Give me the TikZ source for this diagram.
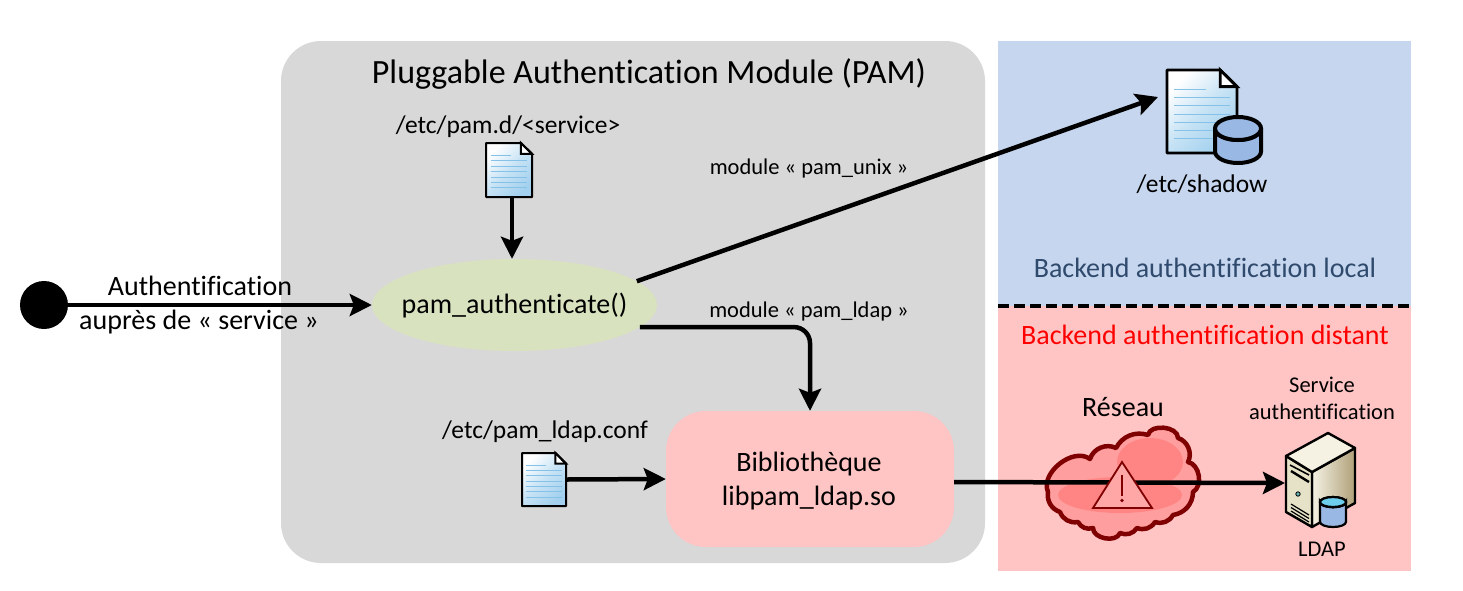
\documentclass[tikz,border=0pt]{standalone}
\usepackage{fontspec}
\setmainfont{Carlito}[Ligatures=CommonOff]
\usetikzlibrary{arrows.meta, shapes.geometric}
\definecolor{graybg}{HTML}{D8D8D8}
\definecolor{bluebg}{HTML}{C5D6EE}
\definecolor{pinkbg}{HTML}{FFC4C4}
\definecolor{greenell}{HTML}{D8E2BE}
\definecolor{localtxt}{HTML}{2F4A6D}
\definecolor{clouddark}{HTML}{7E0000}
\definecolor{cloudfill}{HTML}{FF9E9E}
\definecolor{cloudcore}{HTML}{FF8585}
\definecolor{docblue}{HTML}{A2D0EE}
\definecolor{docline}{HTML}{86C2E8}
\definecolor{cylblue}{HTML}{9AB8E4}
\definecolor{servtop}{HTML}{F5F2E4}
\definecolor{servfront}{HTML}{E6E2C8}
\definecolor{servside}{HTML}{AFA079}
\tikzset{
    flow/.style={line width=4.5pt, -{Stealth[length=22pt, width=22pt, inset=4pt]}},
    label28/.style={font=\fontsize{28}{34}\selectfont, inner sep=0pt, align=center},
    label25/.style={font=\fontsize{25.5}{30}\selectfont, inner sep=0pt, align=center},
    label22/.style={font=\fontsize{22.5}{27}\selectfont, inner sep=0pt, align=center},
    iconbox/.style={inner sep=0pt, outer sep=0pt},
    pics/docicon/.style={code={
        \path[top color=white, bottom color=docblue, middle color=docblue!60!white, shading angle=45]
            (0,0) -- (0.76,0) -- (1,0.2) -- (1,1) -- (0,1) -- cycle;
        \foreach \ly in {0.33,0.43,0.53,0.63,0.73,0.83}
            \draw[line width=0.8pt, color=docline] (0.1,\ly) -- (0.9,\ly);
        \draw[line width=0.8pt, color=docline] (0.1,0.23) -- (0.55,0.23);
        \draw[fill=white] (0.76,0) -- (1,0.2) -- (0.76,0.2) -- cycle;
        \draw[line join=round] (0,0) -- (0.76,0) -- (1,0.2) -- (1,1) -- (0,1) -- cycle;
    }},
    pics/cylicon/.style={code={
        \path[pic actions] (0,#1) -- (0,1-#1) arc[start angle=180, end angle=0, x radius=0.5, y radius=#1] -- (1,#1) arc[start angle=0, end angle=180, x radius=0.5, y radius=#1] -- cycle;
        \path[pic actions] (0.5,#1) ellipse [x radius=0.5, y radius=#1];
    }},
}
\begin{document}
\begin{tikzpicture}[x=1pt, y=-1pt]
    \useasboundingbox (0,0) rectangle (1463,590);

    % Backgrounds
    \fill[graybg, rounded corners=40pt] (281,41) rectangle (985,563);
    \fill[bluebg] (998,41) rectangle (1411,306);
    \fill[pinkbg] (998,306) rectangle (1411,571);
    \draw[line width=3.5pt, dash pattern=on 11pt off 5pt] (998,306) -- (1411,306);

    % Zone titles
    \node [font=\fontsize{34}{40}\selectfont, inner sep=0pt] (pamtitle) at (649,74) {Pluggable Authentication Module (PAM)};
    \node [label28, color=localtxt] (localtitle) at (1205,267.5) {Backend authentification local};
    \node [label28, color=red] (remotetitle) at (1205,335) {Backend authentification distant};

    % Main nodes
    \node [circle, fill=black, minimum size=48pt, inner sep=0pt] (start) at (44,305) {};
    \node [ellipse, fill=greenell, minimum width=285pt, minimum height=92pt, inner sep=0pt] (auth) at (514.5,305) {};
    \node [label28] (authtxt) at (514.5,306) {pam\_authenticate()};
    \node [rectangle, rounded corners=40pt, fill=pinkbg, minimum width=288pt, minimum height=136pt, inner sep=0pt] (lib) at (810,479) {};
    \node [label28] (libtxt) at (809,481) {Bibliothèque\\libpam\_ldap.so};

    % Icons
    \node [iconbox, minimum width=46pt, minimum height=54pt] (pamdoc) at (509,170) {};
    \pic [xscale=46, yscale=54, line width=2pt] at (pamdoc.north west) {docicon};
    \node [iconbox, minimum width=44pt, minimum height=53pt] (ldapdoc) at (544,479.5) {};
    \pic [xscale=44, yscale=53, line width=2pt] at (ldapdoc.north west) {docicon};
    \node [iconbox, minimum width=70pt, minimum height=83pt] (shadowdoc) at (1202,111.5) {};
    \pic [xscale=70, yscale=83, line width=2.8pt] at (shadowdoc.north west) {docicon};
    \pic [xscale=46, yscale=46, draw=black, line width=4pt, fill=cylblue] at (1215,117) {cylicon=0.25};
    \coordinate (shadowtip) at (1158,97);

    % Server
    \node [iconbox, minimum width=70pt, minimum height=96pt] (server) at (1320,483) {};
    \begin{scope}[shift={(server.center)}, line width=2.4pt, line join=round]
        \draw[left color=servtop, right color=servside] (-8,-11) -- (35,-35) -- (35,20) -- (-8,44) -- cycle;
        \draw[fill=servfront] (-34,-27) -- (-8,-11) -- (-8,44) -- (-34,29) -- cycle;
        \draw[fill=servtop] (-34,-27) -- (8,-50) -- (35,-35) -- (-8,-11) -- cycle;
        \draw[line width=1.6pt] (-30,-18) -- (-11,-8);
        \draw[line width=2.4pt] (-29,-12) -- (-11,-1);
        \draw[line width=0.8pt, fill=teal!60!white] (-22,11) circle (2.2pt);
        \foreach \vy in {21,24.5,28,31.5}
            \draw[line width=1.2pt] (-29,\vy) -- (-11,\vy+11);
    \end{scope}
    \pic [xscale=26, yscale=30, draw=black, line width=2.2pt, left color=cylblue, middle color=white, right color=cylblue] at (1320,497) {cylicon=0.17};
    \node [ellipse, draw=black, line width=2.2pt, fill=cylblue!70!cyan, minimum width=26pt, minimum height=10pt, inner sep=0pt] (servdisk) at (1333,502) {};

    % Cloud
    \draw[line width=4.5pt, line join=round, color=clouddark, fill=cloudfill]
        (1048,492) to [bend left=75] (1090,459) to [bend left=50] (1116,448) to [bend left=40] (1148,435)
        to [bend left=85] (1178,438) to [bend left=50] (1188,462) to [bend left=70] (1193,492)
        to [bend left=40] (1173,515) to [bend left=40] (1155,522) to [bend left=40] (1137,528)
        to [bend left=40] (1120,533) to [bend left=80] (1093,528) to [bend left=40] (1078,522)
        to [bend left=40] (1060,512) to [bend left=40] cycle;
    \fill[cloudcore] (1120,495) ellipse [x radius=62, y radius=18];
    \fill[cloudcore] (1150,462) ellipse [x radius=33, y radius=24];

    % Connectors
    \draw[flow] (start) -- (auth.west);
    \draw[flow] ([xshift=3pt]pamdoc.south) -- ([xshift=3pt]pamdoc.south |- auth.north);
    \draw[flow] (auth.11) -- (shadowtip);
    \draw[flow, rounded corners=16pt] (auth.-10) -- (lib.north |- auth.-10) -- (lib.north);
    \draw[flow] (ldapdoc.east) -- (lib.west);
    \draw[flow] ([yshift=-3pt]lib.east) -- (server.west);

    % Warning sign
    \draw[line width=1.8pt, color=clouddark, fill=pinkbg!85!red, line join=miter] (1093,508) -- (1152,508) -- (1122,462) -- cycle;
    \draw[line width=2.4pt, color=clouddark] (1122,475) -- (1122,496);
    \fill[clouddark] (1122,500.5) circle (1.8pt);

    % Text labels
    \node [label28] (authlbl) at (200,286) {Authentification};
    \node [label28] (servicelbl) at (199,322) {auprès de « service »};
    \node [label25] (pamdoclbl) at (508,127) {/etc/pam.d/<service>};
    \node [label25] (ldapdoclbl) at (545,432) {/etc/pam\_ldap.conf};
    \node [label22] (unixlbl) at (809,168) {module « pam\_unix »};
    \node [label22] (ldaplbl) at (809,311) {module « pam\_ldap »};
    \node [label25] (shadowlbl) at (1202,184) {/etc/shadow};
    \node [label28] (reseaulbl) at (1123,407) {Réseau};
    \node [label22] (svclbl) at (1322,398.5) {Service\\authentification};
    \node [label22] (ldapsrvlbl) at (1322,549) {LDAP};
\end{tikzpicture}
\end{document}
